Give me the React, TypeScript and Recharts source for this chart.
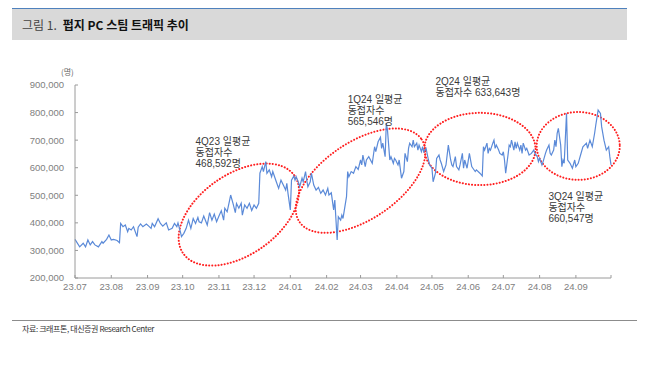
import React from "react";
import { LineChart, Line, XAxis, YAxis, ReferenceArea, ReferenceDot } from "recharts";

// 2023.07.01 기준 경과일
const days = [
  0, 4, 7, 9, 11, 13, 15, 17, 20, 23, 24, 27, 29, 31, 33, 36, 38, 39, 41, 43, 45, 46, 48, 50, 53, 54, 56, 58, 61, 63,
  65, 66, 68, 71, 73, 75, 78, 80, 83, 85, 87, 88, 90, 91, 93, 95, 97, 99, 101, 103, 105, 106, 108, 110, 113, 115, 117,
  119, 121, 123, 125, 127, 128, 130, 132, 133, 135, 137, 138, 140, 142, 143, 145, 147, 149, 151, 153, 155, 157, 158,
  160, 161, 163, 164, 166, 168, 169, 172, 174, 176, 178, 180, 181, 182, 184, 185, 187, 188, 189, 191, 192, 194, 195,
  197, 198, 199, 201, 202, 204, 206, 208, 210, 212, 214, 216, 217, 219, 221, 222, 224, 225, 227, 228, 229, 232, 233,
  234, 236, 238, 240, 242, 244, 245, 246, 248, 249, 251, 254, 256, 257, 259, 261, 262, 263, 265, 266, 267, 269, 270,
  272, 273, 274, 276, 277, 279, 281, 282, 284, 285, 286, 288, 289, 290, 292, 293, 294, 296, 297, 298, 300, 302, 303,
  305, 306, 308, 309, 311, 312, 313, 315, 317, 319, 321, 322, 323, 325, 326, 328, 329, 331, 332, 333, 335, 337, 339,
  340, 342, 343, 346, 348, 349, 350, 352, 353, 354, 355, 357, 358, 359, 360, 362, 363, 365, 366, 367, 368, 370, 371,
  372, 373, 375, 376, 377, 378, 380, 381, 382, 383, 385, 386, 388, 390, 392, 393, 395, 396, 397, 399, 400, 402, 403,
  405, 406, 407, 409, 410, 411, 412, 413, 415, 416, 417, 418, 420, 421, 423, 425, 427, 428, 430, 432, 434, 437, 438,
  440, 442, 444, 445, 447, 449, 450, 452, 453, 454, 456, 457, 458,
];

// 동시접속자수 (천 명)
const users = [
  340, 313, 326, 313, 338, 320, 332, 320, 313, 332, 326, 340, 356, 338, 340, 336, 328, 398, 386, 392, 368, 380, 374,
  386, 350, 384, 396, 386, 396, 388, 380, 398, 386, 415, 398, 388, 400, 374, 380, 398, 386, 400, 368, 350, 362, 380,
  410, 380, 416, 398, 420, 404, 400, 425, 392, 437, 410, 432, 404, 425, 444, 410, 453, 440, 480, 501, 471, 437, 470,
  453, 471, 428, 465, 453, 471, 445, 465, 453, 471, 580, 604, 586, 622, 580, 592, 567, 586, 549, 525, 555, 537, 519,
  543, 507, 447, 555, 570, 555, 567, 546, 531, 562, 549, 586, 555, 531, 549, 580, 537, 519, 529, 507, 519, 501, 525,
  501, 509, 447, 483, 338, 422, 410, 428, 416, 495, 586, 567, 586, 580, 604, 594, 628, 610, 646, 604, 628, 640, 616,
  676, 658, 694, 710, 670, 689, 640, 761, 737, 628, 640, 616, 634, 628, 610, 628, 562, 586, 652, 622, 670, 689, 676,
  700, 676, 689, 664, 682, 658, 676, 658, 670, 628, 610, 598, 549, 580, 634, 646, 628, 616, 586, 610, 682, 628, 610,
  604, 640, 604, 592, 610, 652, 598, 628, 598, 652, 604, 598, 586, 592, 580, 570, 676, 664, 689, 652, 670, 664, 689,
  700, 670, 682, 664, 652, 646, 658, 628, 580, 646, 682, 676, 700, 664, 694, 670, 689, 664, 682, 652, 689, 664, 670,
  646, 652, 664, 652, 640, 622, 634, 610, 622, 652, 664, 682, 652, 646, 664, 700, 676, 725, 743, 682, 604, 628, 616,
  797, 628, 616, 598, 628, 604, 616, 646, 676, 689, 670, 700, 676, 725, 755, 809, 797, 749, 700, 682, 664, 676, 640,
  610,
];

const monthStarts = [0, 31, 62, 92, 123, 153, 184, 215, 244, 275, 305, 336, 366, 397, 428, 458];
const monthLabels = [
  "23.07", "23.08", "23.09", "23.10", "23.11", "23.12", "24.01", "24.02", "24.03", "24.04", "24.05", "24.06",
  "24.07", "24.08", "24.09", "",
];
const yTicks = [200, 300, 400, 500, 600, 700, 800, 900];

// 분기 강조 타원 (중심일, 중심값, 반경일, 반경값, 기울기)
const ovalDay = [140, 244, 346, 430];
const ovalValue = [430, 553, 668, 679];
const ovalHalfDays = [58, 63, 47.5, 35.5];
const ovalHalfValue = [146, 140, 131, 123];
const ovalTilt = [-35, -34, 0, 0];

// 주석
const noteDay = [103, 233, 308, 404.5];
const noteValue = [694, 848, 912, 495];
const noteLines = [
  ["4Q23 일평균", "동접자수", "468,592명"],
  ["1Q24 일평균", "동접자수", "565,546명"],
  ["2Q24 일평균", "동접자수 633,643명"],
  ["3Q24 일평균", "동접자수", "660,547명"],
];

const FONT = '"Liberation Sans", Arial, "Noto Sans CJK KR", sans-serif';

const chartData = days.map((d, i) => ({ day: d, users: users[i] }));

const OvalShape = (props: any) => {
  const { x, y, width, height, tilt } = props;
  if (x == null || width == null) return null;
  const cx = x + width / 2;
  const cy = y + height / 2;
  return (
    <ellipse
      cx={cx}
      cy={cy}
      rx={Math.abs(width) / 2}
      ry={Math.abs(height) / 2}
      transform={`rotate(${tilt} ${cx} ${cy})`}
      fill="none"
      stroke="#ff1f1f"
      strokeWidth={2}
      strokeDasharray="0.1 3"
      strokeLinecap="round"
    />
  );
};

const NoteShape = (props: any) => {
  const { cx, cy, lines } = props;
  if (cx == null) return null;
  return (
    <text x={cx} y={cy} fill="#3a3a3a" fontSize={10} fontFamily={FONT}>
      {lines.map((t: string, i: number) => (
        <tspan key={i} x={cx} y={cy + i * 11} dominantBaseline="central">
          {t}
        </tspan>
      ))}
    </text>
  );
};

export default function App() {
  return (
    <div
      style={{
        position: "absolute",
        left: 0,
        top: 0,
        width: 647,
        height: 376,
        background: "#fff",
        fontFamily: FONT,
      }}
    >
      {/* 제목 */}
      <div
        style={{
          position: "absolute",
          left: 12,
          top: 8,
          width: 615,
          height: 32,
          background: "#d9d9d9",
          borderTop: "1px solid #4f81bd",
          boxSizing: "border-box",
          display: "flex",
          alignItems: "center",
          paddingLeft: 10,
          fontSize: 12,
          fontFamily: '"Noto Sans CJK KR", sans-serif',
        }}
      >
        <span style={{ color: "#444" }}>그림 1.</span>
        <span style={{ color: "#111", fontWeight: 700, marginLeft: 6 }}>펍지 PC 스팀 트래픽 추이</span>
      </div>

      <div
        style={{
          position: "absolute",
          left: 61,
          top: 66,
          fontSize: 8,
          color: "#666",
          fontFamily: '"Noto Sans CJK KR", sans-serif',
        }}
      >
        (명)
      </div>

      <div style={{ position: "absolute", left: 0, top: 0 }}>
        <LineChart
          width={647}
          height={376}
          data={chartData}
          margin={{ top: 85, right: 36, bottom: 68, left: 10 }}
        >
          <XAxis
            type="number"
            dataKey="day"
            domain={[0, 458]}
            ticks={monthStarts}
            interval={0}
            tickFormatter={(v: number) => monthLabels[monthStarts.indexOf(v)] ?? ""}
            height={30}
            stroke="#9a9a9a"
            tickSize={-3}
            tickMargin={8}
            tick={{ fill: "#808080", fontSize: 9.5, fontFamily: FONT }}
          />
          <YAxis
            type="number"
            domain={[200, 900]}
            ticks={yTicks}
            interval={0}
            width={65}
            tickFormatter={(v: number) => (v * 1000).toLocaleString("en-US")}
            stroke="#9a9a9a"
            tickSize={-3}
            tickMargin={14}
            tick={{ fill: "#808080", fontSize: 9.5, fontFamily: FONT }}
          />
          <Line
            type="linear"
            dataKey="users"
            stroke="#5b8ad8"
            strokeWidth={1.2}
            dot={false}
            isAnimationActive={false}
          />
          {ovalDay.map((d, i) => (
            <ReferenceArea
              key={`oval-${i}`}
              x1={d - ovalHalfDays[i]}
              x2={d + ovalHalfDays[i]}
              y1={ovalValue[i] - ovalHalfValue[i]}
              y2={ovalValue[i] + ovalHalfValue[i]}
              ifOverflow="visible"
              shape={(p: any) => <OvalShape {...p} tilt={ovalTilt[i]} />}
            />
          ))}
          {noteDay.map((d, i) => (
            <ReferenceDot
              key={`note-${i}`}
              x={d}
              y={noteValue[i]}
              ifOverflow="visible"
              shape={(p: any) => <NoteShape {...p} lines={noteLines[i]} />}
            />
          ))}
        </LineChart>
      </div>

      {/* 출처 */}
      <div
        style={{
          position: "absolute",
          left: 12,
          top: 320,
          width: 615,
          borderTop: "1px solid #8c8c8c",
          paddingTop: 2,
          paddingLeft: 10,
          fontSize: 8,
          letterSpacing: -0.4,
          color: "#333",
          fontFamily: '"Noto Sans CJK KR", sans-serif',
        }}
      >
        자료: 크래프톤, 대신증권 Research Center
      </div>
    </div>
  );
}
